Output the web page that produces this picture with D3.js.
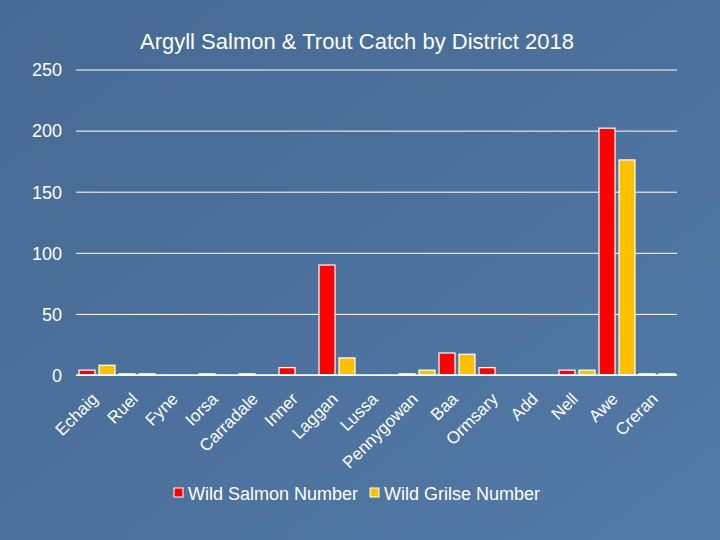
<!DOCTYPE html>
<html>
<head>
<meta charset="utf-8">
<script src="https://cdn.jsdelivr.net/npm/d3@7"></script>
<style>
html,body{margin:0;padding:0;}
body{width:720px;height:540px;overflow:hidden;}
svg{display:block;font-family:Arial,"Liberation Sans",sans-serif;}
</style>
</head>
<body>
<script>
const categories = ["Echaig","Ruel","Fyne","Iorsa","Carradale","Inner","Laggan","Lussa","Pennygowan","Baa","Ormsary","Add","Nell","Awe","Creran"];
const seriesNames = ["Wild Salmon Number","Wild Grilse Number"];
const salmon = [4,1,0,1,1,6,90,0,1,18,6,0,4,202,1];
const grilse = [8,1,0,0,0,0,14,0,4,17,0,0,4,176,1];
const yTicks = [0,50,100,150,200,250];
const colors = ["#ff0000","#ffc000"];
const title = "Argyll Salmon & Trout Catch by District 2018";

const W = 720, H = 540;
const svg = d3.select("body").append("svg").attr("width", W).attr("height", H);

const defs = svg.append("defs");
const grad = defs.append("linearGradient").attr("id","bg").attr("x1","0").attr("y1","0").attr("x2","1").attr("y2","1");
grad.append("stop").attr("offset","0").attr("stop-color","#466a93");
grad.append("stop").attr("offset","0.5").attr("stop-color","#4c719c");
grad.append("stop").attr("offset","1").attr("stop-color","#5379a7");
svg.append("rect").attr("width",W).attr("height",H).attr("fill","url(#bg)");

const x0 = d3.scaleBand().domain(categories).range([77, 677]).paddingInner(0).paddingOuter(0);
const x1 = d3.scaleBand().domain(seriesNames).range([0, x0.bandwidth()]).paddingInner(0.2).paddingOuter(0.1);
const y = d3.scaleLinear().domain([0, 250]).range([375, 69.5]);

svg.append("text").attr("x", 357).attr("y", 49).attr("text-anchor","middle")
  .attr("fill","#fff").attr("font-size", 22).text(title);

const yAxis = d3.axisLeft(y).tickValues(yTicks).tickSize(-601).tickPadding(14).tickFormat(d3.format("d"));
const ga = svg.append("g").attr("transform","translate(76,0)").call(yAxis);
ga.select(".domain").remove();
ga.selectAll(".tick line").attr("stroke","#fff").attr("stroke-width",1);
ga.selectAll(".tick text").attr("fill","#fff").attr("font-size",18).attr("font-family","Arial, 'Liberation Sans', sans-serif").attr("dy","0.35em");

const data = categories.map((c,i)=>({cat:c, vals:[salmon[i], grilse[i]]}));
const groups = svg.append("g").selectAll("g").data(data).join("g")
  .attr("transform", d=>`translate(${x0(d.cat)},0)`);
groups.selectAll("rect").data(d=>d.vals.map((v,j)=>({s:seriesNames[j], v, j})))
  .join("rect")
  .attr("x", d=>x1(d.s)).attr("width", x1.bandwidth())
  .attr("y", d=>y(d.v)).attr("height", d=>y(0)-y(d.v))
  .attr("fill", d=>colors[d.j]).attr("stroke","#fff").attr("stroke-width",1.2);

const xAxis = d3.axisBottom(x0).tickSize(0).tickPadding(0);
const gx = svg.append("g").attr("transform","translate(0,375)").call(xAxis);
gx.select(".domain").attr("stroke","#fff").attr("stroke-width",1.5).attr("d","M76,0H677");
gx.selectAll(".tick text").remove();
gx.selectAll(".tick").append("g").attr("transform","translate(2,25) rotate(-45)")
  .append("text")
  .attr("fill","#fff").attr("font-size",17).attr("font-family","Arial, 'Liberation Sans', sans-serif")
  .attr("text-anchor","end")
  .text(d=>d);

const legend = svg.append("g");
const lx = [174, 370];
seriesNames.forEach((s,i)=>{
  legend.append("rect").attr("x",lx[i]).attr("y",488).attr("width",9).attr("height",9)
    .attr("fill",colors[i]).attr("stroke","#fff").attr("stroke-width",1);
  legend.append("text").attr("x",lx[i]+14).attr("y",499.5).attr("fill","#fff").attr("font-size",18).text(s);
});
</script>
</body>
</html>
